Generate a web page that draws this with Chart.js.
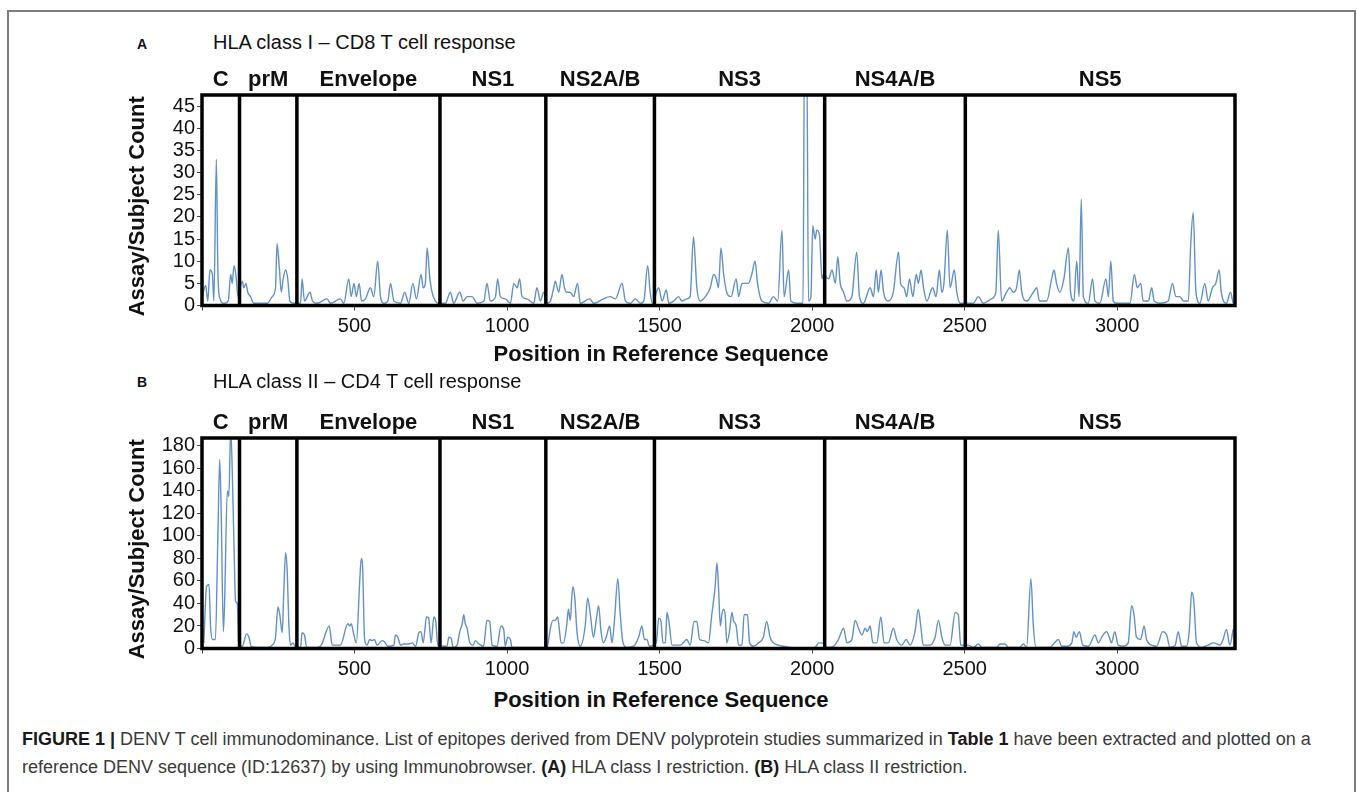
<!DOCTYPE html>
<html>
<head>
<meta charset="utf-8">
<script src="https://cdn.jsdelivr.net/npm/chart.js@4.4.1/dist/chart.umd.min.js"></script>
<style>
  body { margin: 0; background: #fff; width: 1357px; height: 792px; overflow: hidden; position: relative;
         font-family: "Liberation Sans", Arial, Helvetica, sans-serif; color: #111; }
  .frame { position: absolute; left: 7px; top: 10px; width: 1345px; height: 820px; border: 2px solid #7d7d7d; }
  canvas { position: absolute; left: 0; }
  .txt { position: absolute; line-height: 1; white-space: nowrap; }
  .panel { font-weight: bold; font-size: 14px; left: 137px; }
  .title { font-size: 20px; left: 213px; }
  .xtitle { font-weight: bold; font-size: 22px; left: 661px; transform: translateX(-50%); }
  .cap { font-size: 18px; left: 22px; color: #3a3a3a; }
  .cap b { color: #1a1a1a; }
</style>
</head>
<body>
<div class="frame"></div>

<div class="txt panel" style="top:37px">A</div>
<div class="txt title" style="top:32px">HLA class I – CD8 T cell response</div>
<canvas id="classI" width="1357" height="343" style="top:0"></canvas>
<div class="txt xtitle" style="top:343px">Position in Reference Sequence</div>

<div class="txt panel" style="top:375px">B</div>
<div class="txt title" style="top:371px">HLA class II – CD4 T cell response</div>
<canvas id="classII" width="1357" height="343" style="top:343px"></canvas>
<div class="txt xtitle" style="top:689px">Position in Reference Sequence</div>

<div class="txt cap" style="top:730px"><b>FIGURE 1 |</b> DENV T cell immunodominance. List of epitopes derived from DENV polyprotein studies summarized in <b>Table 1</b> have been extracted and plotted on a</div>
<div class="txt cap" style="top:758px">reference DENV sequence (ID:12637) by using Immunobrowser. <b>(A)</b> HLA class I restriction. <b>(B)</b> HLA class II restriction.</div>

<script>
const FONT = '"Liberation Sans", Arial, Helvetica, sans-serif'

// protein regions along the polyprotein
const segmentNames = ['C', 'prM', 'Envelope', 'NS1', 'NS2A/B', 'NS3', 'NS4A/B', 'NS5']
const segmentBounds = [123, 311, 780, 1127, 1483, 2041, 2502]
const seqMin = 0
const seqMax = 3386
const xTickValues = [0, 500, 1000, 1500, 2000, 2500, 3000]

// (A) HLA class I - CD8 response
const classIPos = [1, 12, 19, 26, 34, 39, 47, 52, 57, 72, 86, 94, 99, 105, 111, 118,
  132, 137, 144, 150, 159, 170, 214, 230, 241, 246, 253, 260, 266, 274, 281, 288, 301,
  323, 328, 336, 354, 362, 377, 410, 421, 454, 465, 481, 489, 498, 506, 515, 523, 536, 552, 563, 576, 585, 596, 609, 618, 629, 651, 664, 678, 691, 703, 718, 725, 732, 738, 747, 754, 765, 776,
  798, 814, 825, 845, 856, 869, 885, 902, 924, 934, 945, 962, 969, 978, 994, 1011, 1022, 1033, 1041, 1049, 1065, 1087, 1098, 1109, 1120,
  1131, 1142, 1153, 1158, 1169, 1180, 1188, 1196, 1207, 1218, 1231, 1240, 1271, 1284, 1316, 1338, 1355, 1377, 1388, 1404, 1420, 1437, 1448, 1461, 1469, 1476,
  1497, 1508, 1522, 1530, 1546, 1562, 1573, 1590, 1600, 1611, 1622, 1633, 1650, 1666, 1677, 1686, 1693, 1701, 1710, 1720, 1734, 1751, 1759, 1770, 1780, 1791, 1802, 1813, 1821, 1835, 1857, 1873, 1887, 1901, 1908, 1923, 1930, 1950, 1970, 1975, 1982, 1988, 1996, 2002, 2010, 2015, 2024, 2032, 2037,
  2054, 2065, 2076, 2084, 2092, 2103, 2114, 2130, 2146, 2155, 2168, 2190, 2201, 2210, 2217, 2226, 2234, 2250, 2266, 2283, 2290, 2301, 2310, 2319, 2330, 2341, 2348, 2357, 2365, 2376, 2395, 2406, 2417, 2425, 2432, 2443, 2452, 2466, 2474, 2485,
  2528, 2545, 2561, 2588, 2602, 2610, 2621, 2637, 2648, 2659, 2670, 2679, 2687, 2703, 2725, 2736, 2745, 2769, 2785, 2793, 2801, 2812, 2825, 2840, 2847, 2858, 2867, 2875, 2882, 2889, 2905, 2919, 2927, 2943, 2963, 2971, 2979, 2987, 2998, 3042, 3056, 3066, 3077, 3085, 3102, 3113, 3121, 3140, 3167, 3181, 3192, 3205, 3218, 3233, 3241, 3249, 3258, 3271, 3287, 3298, 3312, 3323, 3334, 3341, 3358, 3371, 3380]
const classICount = [2, 4.5, 1, 8, 7, 1, 33, 8, 2, 0.5, 1, 7, 5, 9, 7, 2,
  5.5, 4, 5, 3, 2, 0.5, 0.5, 2, 4, 14, 9, 3, 6, 8, 6, 1, 0.5,
  0.5, 6, 1, 3, 1, 0.5, 1.5, 0.5, 1.5, 0.5, 6, 2, 5, 2, 5, 1, 1.5, 4, 2, 10, 2, 0.5, 1, 5, 1, 0.5, 3, 0.5, 5, 1.5, 7, 4, 5, 13, 6, 3, 1, 0.5,
  0.5, 3, 0.5, 3, 1, 2, 2, 0.5, 1, 5, 1, 2, 6, 2, 1.5, 0.5, 5, 4, 6, 2, 1.5, 0.5, 4, 1, 3,
  0.5, 1, 4, 5.5, 3, 7, 4, 3, 3, 2, 5, 0.5, 1.5, 0.5, 1.5, 2, 1.5, 5, 1, 0.5, 1.5, 0.5, 1, 9, 3, 0.5,
  4, 1, 3.5, 0.5, 1, 2, 1, 1.5, 2, 15.5, 4, 1, 2, 4, 7, 6, 4, 13, 7, 3, 2, 6, 2, 5, 5, 5, 7, 10, 5, 1, 0.5, 2, 1, 17, 2, 8, 1, 0.5, 0.5, 60, 60, 1, 2, 18, 15, 17, 16, 6, 7,
  6, 8, 5, 11, 5, 3, 1, 2, 12, 2, 0.5, 4, 2, 8, 3, 8, 3, 1, 3, 12, 5, 4, 2, 6, 2, 7, 5, 8, 4, 1, 4, 2, 8, 3, 5, 17, 4, 8, 3, 0.5,
  0.5, 2, 0.5, 1.5, 3, 17, 1, 3, 4, 3, 4, 8, 3, 1, 3, 4, 1, 1, 6, 8, 5, 3, 6, 13, 3, 1, 10, 2, 24, 2, 0.5, 6, 1, 0.5, 6, 2, 10, 1, 0.5, 0.5, 7, 4, 5, 1, 1, 4, 1, 0.5, 1, 5, 2, 2, 1, 1, 14, 21, 3, 0.5, 5, 1, 4, 5, 8, 3, 0.5, 3, 0.5]
const classIYMax = 47.5
const classIYStep = 5

// (B) HLA class II - CD4 response
const classIIPos = [6, 15, 23, 28, 34, 44, 52, 58, 63, 70, 74, 83, 88, 94, 99, 105, 110, 116, 120,
  132, 146, 154, 161, 181, 214, 230, 241, 249, 255, 263, 268, 274, 279, 285, 290, 299, 306,
  323, 328, 336, 343, 377, 391, 417, 427, 454, 478, 485, 489, 498, 506, 517, 522, 526, 533, 541, 550, 558, 565, 574, 590, 598, 609, 629, 634, 642, 651, 661, 678, 689, 700, 711, 718, 725, 736, 743, 751, 760, 766, 773,
  803, 809, 817, 823, 836, 845, 853, 858, 863, 869, 878, 889, 896, 904, 913, 923, 934, 943, 951, 967, 980, 989, 994, 1002, 1011, 1016, 1066, 1110,
  1131, 1142, 1150, 1158, 1166, 1172, 1177, 1185, 1196, 1201, 1207, 1212, 1216, 1222, 1229, 1240, 1256, 1264, 1273, 1283, 1292, 1300, 1308, 1316, 1325, 1336, 1344, 1352, 1363, 1371, 1380, 1393, 1415, 1431, 1442, 1450, 1458, 1467,
  1489, 1497, 1504, 1511, 1519, 1524, 1530, 1541, 1568, 1589, 1600, 1613, 1622, 1631, 1644, 1660, 1671, 1682, 1688, 1693, 1699, 1704, 1709, 1715, 1720, 1729, 1737, 1742, 1751, 1759, 1770, 1777, 1788, 1795, 1808, 1824, 1840, 1851, 1862, 1873, 1889, 1906, 1927, 1971, 2009, 2021, 2032,
  2050, 2070, 2086, 2103, 2114, 2130, 2141, 2152, 2163, 2174, 2181, 2190, 2199, 2212, 2225, 2236, 2250, 2266, 2277, 2294, 2308, 2321, 2337, 2348, 2356, 2364, 2386, 2403, 2414, 2425, 2436, 2452, 2469, 2479, 2487,
  2512, 2528, 2545, 2556, 2605, 2616, 2632, 2643, 2681, 2692, 2703, 2717, 2725, 2734, 2780, 2791, 2807, 2818, 2835, 2851, 2858, 2865, 2876, 2887, 2906, 2927, 2938, 2949, 2956, 2965, 2974, 2981, 2992, 3003, 3020, 3036, 3047, 3055, 3063, 3077, 3088, 3096, 3113, 3129, 3149, 3162, 3173, 3190, 3200, 3211, 3227, 3236, 3244, 3251, 3260, 3277, 3298, 3315, 3337, 3347, 3358, 3369, 3380]
const classIICount = [5, 55, 57, 20, 8, 8, 100, 168, 120, 15, 40, 140, 135, 195, 160, 90, 42, 40, 5,
  2, 13, 10, 2, 1, 1, 3, 10, 37, 30, 14, 50, 85, 70, 20, 3, 5, 1,
  1, 14, 12, 1, 1, 3, 20, 3, 3, 22, 20, 22, 12, 5, 60, 80, 75, 8, 3, 8, 7, 8, 3, 7, 6, 2, 3, 12, 10, 3, 4, 4, 5, 2, 14, 15, 5, 28, 27, 5, 28, 25, 3,
  2, 10, 9, 1, 3, 15, 22, 30, 22, 18, 5, 3, 7, 5, 3, 2, 25, 24, 3, 2, 20, 17, 2, 10, 8, 1, 1, 1,
  1, 18, 25, 25, 28, 15, 5, 5, 22, 35, 25, 45, 55, 45, 15, 2, 20, 45, 30, 10, 25, 38, 15, 5, 10, 20, 5, 25, 62, 30, 5, 1, 2, 10, 20, 8, 8, 2,
  5, 27, 25, 5, 5, 32, 25, 3, 3, 8, 3, 24, 24, 8, 7, 5, 30, 55, 76, 55, 20, 30, 35, 30, 5, 15, 32, 25, 20, 3, 3, 30, 30, 5, 2, 5, 10, 24, 10, 5, 3, 2, 1, 0.5, 1, 5, 5,
  1, 2, 8, 18, 5, 8, 25, 18, 12, 18, 15, 20, 5, 5, 28, 5, 5, 18, 8, 3, 8, 3, 15, 35, 20, 3, 3, 10, 25, 10, 3, 3, 32, 30, 3,
  3, 1, 4, 1, 1, 4, 4, 1, 1, 4, 1, 62, 20, 1, 1, 4, 8, 2, 2, 5, 15, 10, 15, 3, 2, 12, 5, 10, 13, 15, 10, 5, 15, 3, 2, 5, 38, 30, 10, 8, 20, 8, 3, 2, 15, 12, 1, 3, 15, 2, 2, 15, 50, 42, 5, 1, 3, 5, 3, 8, 17, 3, 17]
const classIIYMax = 187
const classIIYStep = 20

// black box, region dividers, region names, y title
const regionFrame = {
  id: 'regionFrame',
  afterDatasetsDraw(chart) {
    const { ctx, chartArea: a, scales: { x } } = chart
    ctx.save()
    ctx.strokeStyle = '#000'
    ctx.lineWidth = 3.5
    ctx.strokeRect(a.left, a.top, a.right - a.left, a.bottom - a.top)
    segmentBounds.forEach(b => {
      const px = x.getPixelForValue(b)
      ctx.beginPath()
      ctx.moveTo(px, a.top)
      ctx.lineTo(px, a.bottom)
      ctx.stroke()
    })
    const edges = [seqMin, ...segmentBounds, seqMax]
    ctx.fillStyle = '#111'
    ctx.textAlign = 'center'
    ctx.textBaseline = 'middle'
    ctx.font = 'bold 22px ' + FONT
    segmentNames.forEach((name, i) => {
      const cx = (x.getPixelForValue(edges[i]) + x.getPixelForValue(edges[i + 1])) / 2
      ctx.fillText(name, cx, a.top - 15.5)
    })
    // y axis title, sits a little below the box centre in the original
    ctx.translate(137.5, (a.top + a.bottom) / 2 + 6)
    ctx.rotate(-Math.PI / 2)
    ctx.fillText('Assay/Subject Count', 0, 0)
    ctx.restore()
  }
}

function drawPanel(id, positions, counts, yMax, yStep) {
  const points = positions.map((p, i) => ({ x: p, y: counts[i] }))
  new Chart(document.getElementById(id), {
    type: 'line',
    data: {
      datasets: [{
        data: points,
        borderColor: 'rgb(98, 145, 198)',
        borderWidth: 1.4,
        pointRadius: 0,
        fill: false,
        cubicInterpolationMode: 'monotone'
      }]
    },
    options: {
      responsive: false,
      animation: false,
      devicePixelRatio: 1,
      layout: { padding: { left: 118, right: 122, top: 95, bottom: 0 } },
      plugins: { legend: { display: false }, tooltip: { enabled: false } },
      scales: {
        x: {
          type: 'linear',
          min: seqMin,
          max: seqMax,
          afterFit: s => { s.height = 37.5 },
          afterBuildTicks: s => { s.ticks = xTickValues.map(v => ({ value: v })) },
          border: { display: false },
          grid: { drawOnChartArea: false, drawTicks: true, tickLength: 5, color: '#444' },
          ticks: {
            autoSkip: false,
            maxRotation: 0,
            padding: 4,
            color: '#111',
            font: { family: FONT, size: 20 },
            callback: v => v > 0 ? String(v) : ''
          }
        },
        y: {
          min: 0,
          max: yMax,
          afterFit: s => { s.width = 84 },
          border: { display: false },
          grid: { drawOnChartArea: false, drawTicks: true, tickLength: 5, color: '#444' },
          ticks: {
            stepSize: yStep,
            includeBounds: false,
            autoSkip: false,
            padding: 2,
            color: '#111',
            font: { family: FONT, size: 20 },
            callback: v => v % yStep === 0 ? String(v) : ''
          }
        }
      }
    },
    plugins: [regionFrame]
  })
}

drawPanel('classI', classIPos, classICount, classIYMax, classIYStep)
drawPanel('classII', classIIPos, classIICount, classIIYMax, classIIYStep)
</script>
</body>
</html>
